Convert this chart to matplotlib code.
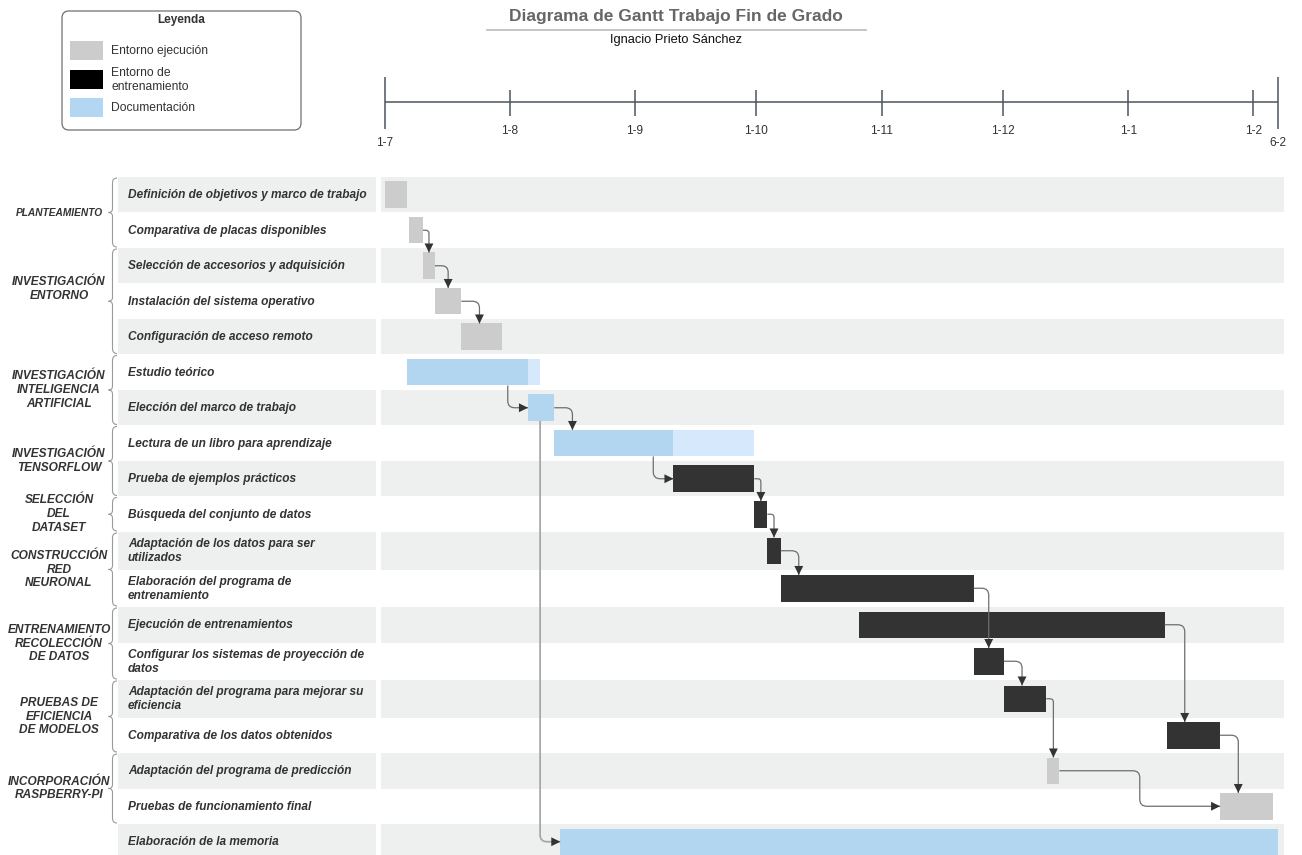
import matplotlib
matplotlib.use("Agg")
import matplotlib.pyplot as plt
import matplotlib.dates as mdates
from matplotlib.patches import Rectangle, FancyBboxPatch, FancyArrowPatch, PathPatch, ArrowStyle
from matplotlib.path import Path
import numpy as np
import pandas as pd

plt.rcParams['font.family'] = ['Liberation Sans', 'DejaVu Sans']

# ---------------- data ----------------
title = "Diagrama de Gantt Trabajo Fin de Grado"
subtitle = "Ignacio Prieto Sánchez"

tasks = [
    "Definición de objetivos y marco de trabajo",
    "Comparativa de placas disponibles",
    "Selección de accesorios y adquisición",
    "Instalación del sistema operativo",
    "Configuración de acceso remoto",
    "Estudio teórico",
    "Elección del marco de trabajo",
    "Lectura de un libro para aprendizaje",
    "Prueba de ejemplos prácticos",
    "Búsqueda del conjunto de datos",
    "Adaptación de los datos para ser\nutilizados",
    "Elaboración del programa de\nentrenamiento",
    "Ejecución de entrenamientos",
    "Configurar los sistemas de proyección de\ndatos",
    "Adaptación del programa para mejorar su\neficiencia",
    "Comparativa de los datos obtenidos",
    "Adaptación del programa de predicción",
    "Pruebas de funcionamiento final",
    "Elaboración de la memoria",
]
task_start = [
    "2020-07-01 00:00", "2020-07-07 00:00", "2020-07-10 12:00", "2020-07-13 12:00",
    "2020-07-20 00:00", "2020-07-06 12:00", "2020-08-05 12:00", "2020-08-12 00:00",
    "2020-09-10 12:00", "2020-09-30 12:00", "2020-10-03 18:00", "2020-10-07 00:00",
    "2020-10-26 12:00", "2020-11-23 18:00", "2020-12-01 06:00", "2021-01-10 12:00",
    "2020-12-12 00:00", "2021-01-23 18:00", "2020-08-13 12:00",
]
task_end = [
    "2020-07-06 12:00", "2020-07-10 12:00", "2020-07-13 12:00", "2020-07-20 00:00",
    "2020-07-30 00:00", "2020-08-05 12:00", "2020-08-12 00:00", "2020-09-10 12:00",
    "2020-09-30 12:00", "2020-10-03 18:00", "2020-10-07 00:00", "2020-11-23 18:00",
    "2021-01-10 00:00", "2020-12-01 06:00", "2020-12-11 18:00", "2021-01-23 18:00",
    "2020-12-15 00:00", "2021-02-05 18:00", "2021-02-07 00:00",
]
# lighter continuation of some documentation tasks
task_soft_end = [None, None, None, None, None, "2020-08-08 12:00", None,
                 "2020-09-30 12:00", None, None, None, None, None, None, None,
                 None, None, None, None]
task_kind = ["ejec"] * 5 + ["doc"] * 3 + ["entr"] * 8 + ["ejec"] * 2 + ["doc"]

group_names = [
    "PLANTEAMIENTO", "INVESTIGACIÓN\nENTORNO", "INVESTIGACIÓN\nINTELIGENCIA\nARTIFICIAL",
    "INVESTIGACIÓN\nTENSORFLOW", "SELECCIÓN\nDEL\nDATASET", "CONSTRUCCIÓN\nRED\nNEURONAL",
    "ENTRENAMIENTO\nRECOLECCIÓN\nDE DATOS", "PRUEBAS DE\nEFICIENCIA\nDE MODELOS",
    "INCORPORACIÓN\nRASPBERRY-PI",
]
group_first = [0, 2, 5, 7, 9, 10, 12, 14, 16]
group_last = [1, 4, 6, 8, 9, 11, 13, 15, 17]

# dependencies (from task, to task, routing)
dep_from = [1, 2, 3, 5, 6, 6, 7, 8, 9, 10, 11, 13, 12, 14, 16, 15]
dep_to = [2, 3, 4, 6, 7, 18, 8, 9, 10, 11, 13, 14, 15, 16, 17, 17]
dep_route = ["down", "down", "down", "drop", "down", "drop", "drop", "down", "down",
             "down", "down", "down", "down", "down", "step", "down"]

tick_dates = ["2020-07-01", "2020-08-01", "2020-09-01", "2020-10-01", "2020-11-01",
              "2020-12-01", "2021-01-01", "2021-02-01"]
tick_labels = ["1-7", "1-8", "1-9", "1-10", "1-11", "1-12", "1-1", "1-2"]
project_end = "2021-02-06"
project_end_label = "6-2"

legend_keys = ["ejec", "entr", "doc"]
legend_labels = ["Entorno ejecución", "Entorno de\nentrenamiento", "Documentación"]

# ---------------- styles ----------------
bar_colors = {"ejec": "#cccccc", "entr": "#333333", "doc": "#b3d6f0"}
soft_color = "#d6e8fc"
legend_colors = {"ejec": "#cccccc", "entr": "#000000", "doc": "#b3d7f2"}
row_bg = "#eeefef"
text_col = "#333333"
line_col = "#6e6e6e"
head_col = "#333333"
axis_col = "#4b5561"

W, H = 1302, 855
fig = plt.figure(figsize=(W / 100, H / 100), dpi=100)

ROW_TOP = 177
CH_L, CH_R = 381, 1284
DAY0_PX, END_PX = 384.5, 1277.7

to_num = lambda s: mdates.date2num(pd.Timestamp(s))
starts = np.array([to_num(s) for s in task_start])
ends = np.array([to_num(s) for s in task_end])
d0 = to_num(tick_dates[0])
dend = to_num(project_end) + 1
spd = (END_PX - DAY0_PX) / (dend - d0)  # px per day

# rows
row_h = np.array([37.5 if "\n" in t else 35.5 for t in tasks])
row_tops = np.concatenate([[0], np.cumsum(row_h)[:-1]])
row_bots = row_tops + row_h
row_c = (row_tops + row_bots) / 2
ymax = H - ROW_TOP

# ---------------- main gantt axes ----------------
ax = fig.add_axes([CH_L / W, 0, (CH_R - CH_L) / W, ymax / H])
ax.set_xlim(d0 - (DAY0_PX - CH_L) / spd, dend + (CH_R - END_PX) / spd)
ax.set_ylim(ymax, 0)
ax.axis("off")

for i in range(len(tasks)):
    if i % 2 == 0:
        ax.axhspan(row_tops[i], row_bots[i], color=row_bg, lw=0, zorder=0)

BH = 26.5
for i in range(len(tasks)):
    if task_soft_end[i] is not None:
        se = to_num(task_soft_end[i])
        ax.barh(row_c[i], se - ends[i], left=ends[i], height=BH, color=soft_color, lw=0, zorder=2)
ax.barh(row_c, ends - starts, left=starts, height=BH,
        color=[bar_colors[k] for k in task_kind], lw=0, zorder=2)


def rounded_path(pts, r=7.0):
    verts = [pts[0]]
    codes = [Path.MOVETO]
    for k in range(1, len(pts) - 1):
        p0, p1, p2 = np.array(pts[k - 1]), np.array(pts[k]), np.array(pts[k + 1])
        din = np.sign(p1 - p0)
        dout = np.sign(p2 - p1)
        lin = abs(p1[0] - p0[0]) * spd + abs(p1[1] - p0[1])
        lout = abs(p2[0] - p1[0]) * spd + abs(p2[1] - p1[1])
        rr = min(r, lin / 2, lout / 2)
        a = (p1[0] - din[0] * rr / spd, p1[1] - din[1] * rr)
        b = (p1[0] + dout[0] * rr / spd, p1[1] + dout[1] * rr)
        verts += [a, tuple(p1), b]
        codes += [Path.LINETO, Path.CURVE3, Path.CURVE3]
    verts.append(pts[-1])
    codes.append(Path.LINETO)
    return Path(verts, codes)


for f, t, route in zip(dep_from, dep_to, dep_route):
    if route == "down":
        xa = min((starts[t] + ends[t]) / 2, starts[t] + 4.5)
        pts = [(ends[f], row_c[f]), (xa, row_c[f]), (xa, row_c[t] - BH / 2)]
    elif route == "drop":
        x0 = starts[t] - 5
        pts = [(x0, row_c[f] + BH / 2), (x0, row_c[t]), (starts[t], row_c[t])]
    else:
        xm = (ends[f] + starts[t]) / 2
        pts = [(ends[f], row_c[f]), (xm, row_c[f]), (xm, row_c[t]), (starts[t], row_c[t])]
    faint = (t == len(tasks) - 1)
    ax.add_patch(PathPatch(rounded_path(pts), fill=False,
                           ec="#a8a8a8" if faint else line_col,
                           lw=1.3 if faint else 0.9, zorder=3, capstyle="butt"))
    # arrow head
    tip = np.array(pts[-1], dtype=float)
    prev = np.array(pts[-2], dtype=float)
    d = np.sign(tip - prev)
    back = (tip[0] - d[0] * 10 / spd, tip[1] - d[1] * 10)
    ax.add_patch(FancyArrowPatch(back, tuple(tip), arrowstyle=ArrowStyle("-|>", head_length=0.65, head_width=0.32),
                                 mutation_scale=10, shrinkA=0, shrinkB=0, color=head_col, lw=0, zorder=4))

# ---------------- label axes ----------------
axl = fig.add_axes([0, 0, 376 / W, ymax / H], sharey=ax)
axl.set_xlim(0, 376)
axl.axis("off")
for i, t in enumerate(tasks):
    if i % 2 == 0:
        axl.add_patch(Rectangle((118, row_tops[i]), 258, row_h[i], color=row_bg, lw=0, zorder=0))
    axl.text(128, row_c[i] + 0.5, t, ha="left", va="center", fontsize=8.6, fontweight="bold",
             fontstyle="italic", color=text_col, linespacing=1.2, zorder=2)

label_size = {0: 7.3}
label_shift = {1: -12}
for g, name in enumerate(group_names):
    top = row_tops[group_first[g]]
    bot = row_bots[group_last[g]]
    mid = (top + bot) / 2
    axl.text(59, mid + label_shift.get(g, 0), name, ha="center", va="center", multialignment="center",
             fontsize=label_size.get(g, 8.6), fontweight="bold", fontstyle="italic", color=text_col,
             linespacing=1.2)
    xe, xv, xt = 117, 112.5, 108.5
    t1, b1 = top + 1, bot - 1
    verts = [(xe, t1), (xv, t1), (xv, t1 + 5), (xv, mid - 4), (xv, mid), (xt, mid),
             (xv, mid), (xv, mid + 4), (xv, b1 - 5), (xv, b1), (xe, b1)]
    codes = [Path.MOVETO, Path.CURVE3, Path.CURVE3, Path.LINETO, Path.CURVE3, Path.CURVE3,
             Path.CURVE3, Path.CURVE3, Path.LINETO, Path.CURVE3, Path.CURVE3]
    axl.add_patch(PathPatch(Path(verts, codes), fill=False, ec="#9a9a9a", lw=0.8))

# ---------------- timeline axes ----------------
axt = fig.add_axes([CH_L / W, 1 - 150 / H, (CH_R - CH_L) / W, 90 / H], sharex=ax)
axt.set_ylim(150, 60)
axt.axis("off")
tnums = [to_num(s) for s in tick_dates]
axt.plot([tnums[0], dend], [102.5, 102.5], color=axis_col, lw=1.1, solid_capstyle="butt")
axt.vlines(tnums[1:], 90, 116, color=axis_col, lw=1.1)
axt.vlines([tnums[0], dend], 77, 129, color=axis_col, lw=1.1)
for x, lab in zip(tnums[1:], tick_labels[1:]):
    axt.text(x, 130.5, lab, ha="center", va="center", fontsize=8.6, color=text_col)
axt.text(tnums[0], 143, tick_labels[0], ha="center", va="center", fontsize=8.6, color=text_col)
axt.text(dend, 143, project_end_label, ha="center", va="center", fontsize=8.6, color=text_col)

# ---------------- title & legend overlay ----------------
axo = fig.add_axes([0, 0, 1, 1], zorder=-1)
axo.set_xlim(0, W)
axo.set_ylim(H, 0)
axo.axis("off")
axo.text(676, 16, title, ha="center", va="center", fontsize=12.5, fontweight="bold", color="#666666")
axo.plot([487, 866], [30, 30], color="#bbbbbb", lw=1.2)
axo.text(676, 40, subtitle, ha="center", va="center", fontsize=9.3, color="#111111")

axo.add_patch(FancyBboxPatch((62, 11), 239, 119, boxstyle="round,pad=0,rounding_size=7",
                             fc="white", ec="#707070", lw=0.9))
axo.text(181, 20, "Leyenda", ha="center", va="center", fontsize=8.5, fontweight="bold", color=text_col)
sw_y = [51, 80, 108]
for k, lab, y in zip(legend_keys, legend_labels, sw_y):
    axo.add_patch(Rectangle((70, y - 9.5), 33, 19, color=legend_colors[k], lw=0))
    axo.text(111, y, lab, ha="left", va="center", fontsize=8.7, color=text_col, linespacing=1.2)

fig.savefig("out.png", dpi=100)
